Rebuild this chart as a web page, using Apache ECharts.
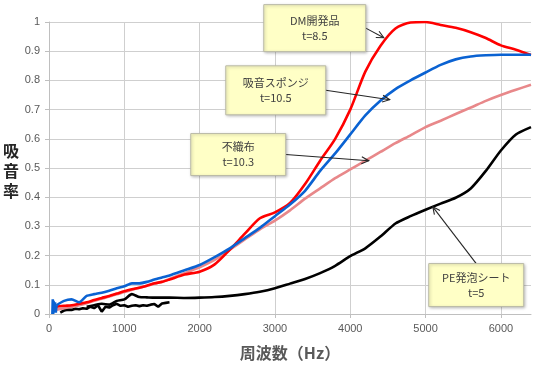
<!DOCTYPE html>
<html><head><meta charset="utf-8">
<script src="https://cdn.jsdelivr.net/npm/echarts@6/dist/echarts.min.js"></script>
<style>html,body{margin:0;padding:0;background:#fff}#c{width:550px;height:368px}</style>
</head><body><div id="c"></div>
<script>
// ---- data ----
const freq = [100,200,300,400,500,600,700,800,900,1000,1100,1200,1300,1400,1500,1600,1800,2000,2200,2400,2600,2800,3000,3200,3400,3600,3800,4000,4200,4400,4600,4800,5000,5200,5400,5600,5800,6000,6200,6400];
const dmVals = [0.025,0.028,0.03,0.035,0.04,0.048,0.055,0.062,0.07,0.078,0.085,0.09,0.097,0.105,0.11,0.118,0.135,0.145,0.17,0.22,0.275,0.328,0.348,0.38,0.445,0.525,0.6,0.7,0.83,0.918,0.978,0.998,1.0,0.99,0.98,0.965,0.945,0.92,0.905,0.887];
const spongeVals = [0.03,0.045,0.05,0.04,0.062,0.068,0.073,0.08,0.088,0.095,0.105,0.105,0.11,0.118,0.125,0.132,0.15,0.168,0.195,0.225,0.26,0.295,0.335,0.375,0.422,0.49,0.55,0.615,0.68,0.73,0.77,0.80,0.827,0.853,0.872,0.882,0.886,0.888,0.888,0.888];
const nonwovenVals = [0.015,0.02,0.025,0.03,0.037,0.045,0.052,0.06,0.068,0.075,0.083,0.09,0.097,0.104,0.11,0.12,0.14,0.16,0.185,0.22,0.255,0.29,0.32,0.355,0.395,0.43,0.465,0.495,0.525,0.555,0.585,0.612,0.64,0.662,0.685,0.707,0.73,0.75,0.768,0.785];
const peVals = [null,null,null,null,0.025,0.03,0.035,0.032,0.045,0.05,0.068,0.058,0.057,0.056,0.056,0.056,0.055,0.056,0.058,0.062,0.068,0.076,0.088,0.104,0.12,0.14,0.165,0.198,0.225,0.265,0.31,0.335,0.357,0.378,0.398,0.43,0.49,0.56,0.615,0.64];
const lowFreq = [150,200,250,300,350,400,450,500,550,600,650,700,750,800,850,900,950,1000,1050,1100,1150,1200,1250,1300,1350,1400,1450,1500,1550,1600];
const peLowVals = [0.005,0.012,0.015,0.014,0.018,0.016,0.02,0.018,0.025,0.02,0.03,0.008,0.025,0.022,0.03,0.035,0.028,0.03,0.025,0.028,0.03,0.027,0.03,0.028,0.032,0.034,0.025,0.036,0.038,0.04];
const spikeFreq = [45,50,55,60,70,80,90,100];
const spongeSpikeVals = [0.0,0.05,0.0,0.045,0.01,0.04,0.005,0.03];
const xTicks = [0,1000,2000,3000,4000,5000,6000];
const yTicks = [0,0.1,0.2,0.3,0.4,0.5,0.6,0.7,0.8,0.9,1];
const seriesNames = ['DM開発品','吸音スポンジ','不織布','PE発泡シート'];
const noteTexts = ['DM開発品\nt=8.5','吸音スポンジ\nt=10.5','不織布\nt=10.3','PE発泡シート\nt=5'];

// ---- layout of callouts (data-coordinate anchors) ----
const noteLayout = [
  {center:[3529,0.979], w:102, h:47, tip:[4445,0.946], from:'right'},
  {center:[3011,0.766], w:100, h:49, tip:[4524,0.734], from:'right'},
  {center:[2513,0.546], w:95,  h:42, tip:[4246,0.525], from:'right'},
  {center:[5673,0.099], w:95,  h:43, tip:[5096,0.367], from:'top'}
];

function pairs(xs, ys){ return xs.map((x,i)=>[x, ys[i]]); }

const chart = echarts.init(document.getElementById('c'), null, {renderer:'canvas'});
const lineBase = (name, color, data, z, smooth) => ({
  name, type:'line', data, showSymbol:false, symbol:'none', smooth: smooth, z,
  lineStyle:{color, width:2.6}, itemStyle:{color}, connectNulls:false, animation:false
});
const option = {
  animation:false,
  backgroundColor:'#ffffff',
  grid:{left:49, top:22, right:19, bottom:54, containLabel:false},
  xAxis:{
    type:'value', min:0, max:6400, interval:1000,
    name:'周波数（Hz）', nameLocation:'middle', nameGap:31,
    nameTextStyle:{color:'#595959', fontSize:16, fontWeight:'bold', fontFamily:'"Noto Sans CJK JP"'},
    axisLine:{show:true, lineStyle:{color:'#bfbfbf'}},
    axisTick:{show:true, length:4, lineStyle:{color:'#bfbfbf'}},
    axisLabel:{color:'#595959', fontSize:11, margin:9, showMaxLabel:false, fontFamily:'"Liberation Sans", Arial',
      formatter:v=> xTicks.includes(v) ? String(v) : ''},
    splitLine:{show:true, showMaxLine:false, lineStyle:{color:'#cfcfcf', width:1}}
  },
  yAxis:{
    type:'value', min:0, max:1, interval:0.1,
    axisLine:{show:true, lineStyle:{color:'#bfbfbf'}},
    axisTick:{show:true, length:4, lineStyle:{color:'#bfbfbf'}},
    axisLabel:{color:'#595959', fontSize:11, margin:9, fontFamily:'"Liberation Sans", Arial',
      formatter:v=>{ const t = yTicks.find(k=>Math.abs(k-v)<1e-9); return t===undefined?'':String(t); }},
    splitLine:{show:true, lineStyle:{color:'#cfcfcf', width:1}}
  },
  series:[
    lineBase(seriesNames[3], '#000000', pairs(lowFreq, peLowVals), 2, false),
    lineBase(seriesNames[3], '#000000', pairs(freq, peVals), 2, 0.2),
    lineBase(seriesNames[2], '#e8888a', pairs(freq, nonwovenVals), 3, 0.2),
    lineBase(seriesNames[0], '#ff0000', pairs(freq, dmVals), 4, 0.25),
    lineBase(seriesNames[1], '#0a62d2', pairs(spikeFreq, spongeSpikeVals), 5, false),
    lineBase(seriesNames[1], '#0a62d2', pairs(freq, spongeVals), 5, 0.2)
  ],
  graphic:[
    {type:'text', left:3, top:141, z:20,
     style:{text:'吸\n音\n率', fill:'#262626', font:'bold 16px "Noto Sans CJK JP"', lineHeight:20, align:'left'}}
  ]
};
chart.setOption(option);

// ---- callouts ----
const g = [];
noteLayout.forEach((a, i) => {
  const c = chart.convertToPixel({gridIndex:0}, a.center);
  const t = chart.convertToPixel({gridIndex:0}, a.tip);
  const x0 = c[0]-a.w/2, y0 = c[1]-a.h/2;
  const s = a.from === 'right' ? [x0+a.w, c[1]] : [c[0], y0];
  const ang = Math.atan2(t[1]-s[1], t[0]-s[0]);
  const L = 8, spread = 0.45;
  const p1 = [t[0]-L*Math.cos(ang-spread), t[1]-L*Math.sin(ang-spread)];
  const p2 = [t[0]-L*Math.cos(ang+spread), t[1]-L*Math.sin(ang+spread)];
  g.push({type:'line', z:30, shape:{x1:s[0], y1:s[1], x2:t[0], y2:t[1]}, style:{stroke:'#262626', lineWidth:1.1}});
  g.push({type:'polyline', z:30, shape:{points:[p1, t, p2]}, style:{stroke:'#262626', lineWidth:1.1, fill:null}});
  g.push({type:'rect', z:31, shape:{x:x0, y:y0, width:a.w, height:a.h},
    style:{fill:'#ffffc6', stroke:'#b9b9a6', lineWidth:1, shadowBlur:3, shadowColor:'rgba(0,0,0,0.25)', shadowOffsetX:1, shadowOffsetY:1}});
  g.push({type:'text', z:32, x:c[0], y:c[1],
    style:{text:noteTexts[i], fill:'#404040', font:'11px "Noto Sans CJK JP"', align:'center', verticalAlign:'middle', lineHeight:15}});
});
chart.setOption({graphic: option.graphic.concat(g)});
</script>
</body></html>
